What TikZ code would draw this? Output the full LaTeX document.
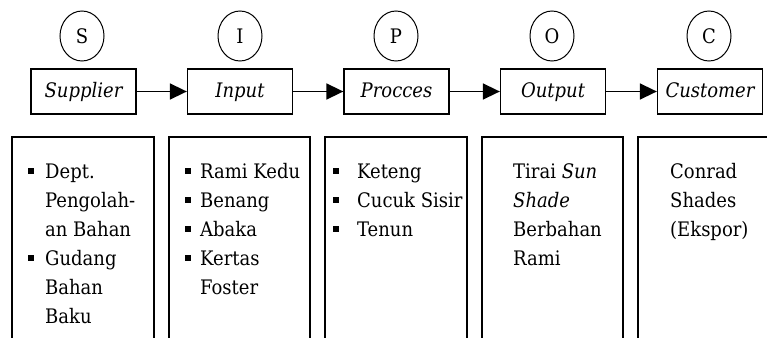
\documentclass[tikz,border=0pt]{standalone}
\usepackage{fontspec}
\setmainfont{DejaVu Serif Condensed}
\usetikzlibrary{arrows.meta,shapes.geometric}
\newcommand{\bul}[1]{\makebox[#1][l]{\raisebox{4pt}{\rule{6pt}{6pt}}}}
\newcommand{\topstrut}{\rule{0pt}{20pt}}
\begin{document}
\begin{tikzpicture}[x=1pt,y=-1pt,
  txt/.style={font=\fontsize{20}{29}\selectfont},
  letter/.style={draw,ellipse,line width=1pt,minimum width=44pt,minimum height=50pt,inner sep=0pt,txt},
  stagebox/.style={draw,line width=1.3pt,minimum width=105pt,minimum height=45pt,inner sep=0pt,text height=15pt,text depth=4pt,font=\fontsize{20}{29}\selectfont\itshape},
  flow/.style={line width=1.6pt,-{Triangle[length=17pt,width=16pt]}},
  listbox/.style={line width=1.3pt},
  listtxt/.style={anchor=north west,align=left,inner sep=0pt,txt}
]
\useasboundingbox (0,0) rectangle (767,337);
% letters
\node[letter] (cs) at (82,36) {S};
\node[letter] (ci) at (240,36) {I};
\node[letter] (cp) at (396,36) {P};
\node[letter] (co) at (552,36) {O};
\node[letter] (cc) at (709,36) {C};
% stage boxes
\node[stagebox] (sup) at (83.5,91.5) {Supplier};
\node[stagebox] (inp) at (240,91.5) {Input};
\node[stagebox] (pro) at (396.5,91.5) {Procces};
\node[stagebox] (out) at (553,91.5) {Output};
\node[stagebox] (cus) at (710,91.5) {Customer};
\draw[flow] (sup.east) -- (inp.west);
\draw[flow] (inp.east) -- (pro.west);
\draw[flow] (pro.east) -- (out.west);
\draw[flow] (out.east) -- (cus.west);
% list boxes (open at the bottom)
\draw[listbox] (12,340) -- (12,137) -- (154,137) -- (154,340);
\draw[listbox] (169,340) -- (169,137) -- (310,137) -- (310,340);
\draw[listbox] (325,340) -- (325,137) -- (467,137) -- (467,340);
\draw[listbox] (482,340) -- (482,137) -- (623,137) -- (623,340);
\draw[listbox] (638,340) -- (638,137) -- (770,137);
% list texts (first baseline at y=178)
\node[listtxt] (t1) at (28,158) {\topstrut\bul{17pt}Dept.\\\hspace*{17pt}Pengolah-\\\hspace*{17pt}an Bahan\\\bul{17pt}Gudang\\\hspace*{17pt}Bahan\\\hspace*{17pt}Baku};
\node[listtxt] (t2) at (185,158) {\topstrut\bul{15pt}Rami Kedu\\\bul{15pt}Benang\\\bul{15pt}Abaka\\\bul{15pt}Kertas\\\hspace*{15pt}Foster};
\node[listtxt] (t3) at (333,158) {\topstrut\bul{24pt}Keteng\\\bul{24pt}Cucuk Sisir\\\bul{24pt}Tenun};
\node[listtxt] (t4) at (513,158) {\topstrut Tirai \textit{Sun}\\\textit{Shade}\\Berbahan\\Rami};
\node[listtxt] (t5) at (670,158) {\topstrut Conrad\\Shades\\(Ekspor)};
\end{tikzpicture}
\end{document}
